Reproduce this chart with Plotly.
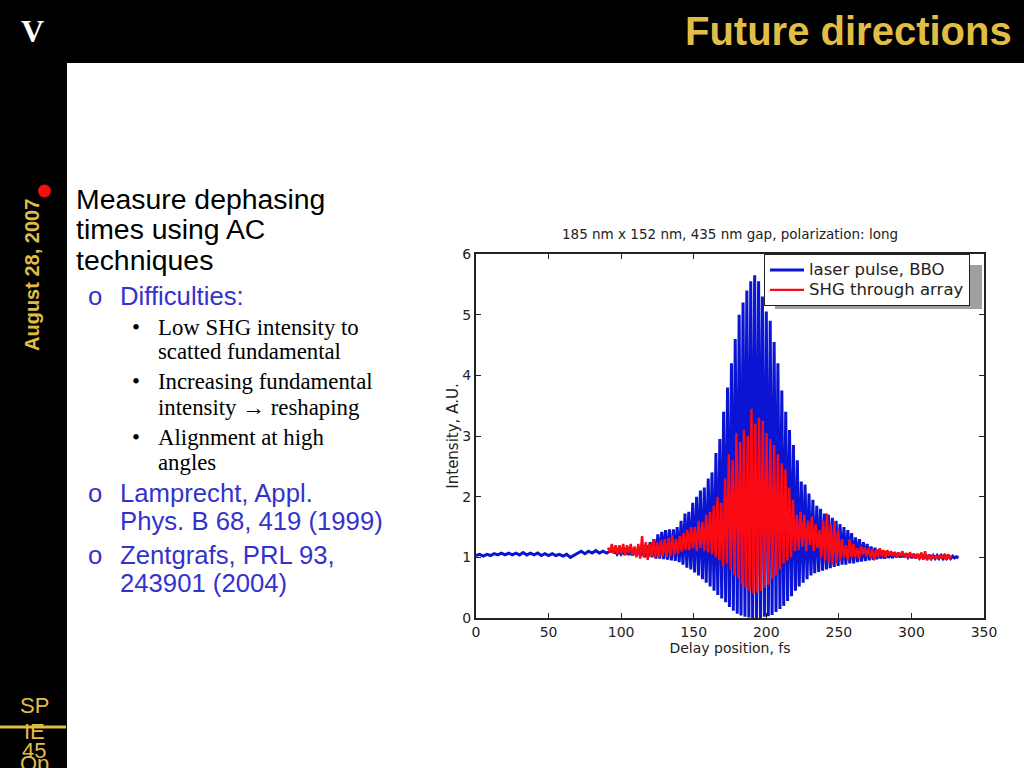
import plotly.graph_objects as go

# ---------- data ----------
blue_base_x = [0, 2.5, 5, 7.5, 10, 12.5, 15, 17.5, 20, 22.5, 25, 27.5, 30, 32.5, 35, 37.5, 40, 42.5, 45,
               47.5, 50, 52.5, 55, 57.5, 60, 62.5, 65, 67.5, 70, 72.5, 75, 77.5, 80, 82.5, 85, 87.5, 90, 92.5]
blue_base_y = [1.03, 1.05, 1.02, 1.05, 1.03, 1.06, 1.04, 1.07, 1.04, 1.07, 1.04, 1.07, 1.04, 1.08, 1.04, 1.07,
               1.04, 1.07, 1.03, 1.06, 1.03, 1.06, 1.03, 1.05, 1.02, 1.05, 1.0, 1.03, 1.07, 1.1, 1.06, 1.1,
               1.07, 1.11, 1.07, 1.1, 1.07, 1.1]

blue_fringe_x = [
    95.9, 97.2, 98.6, 99.9, 101.3, 102.6, 103.9, 105.3, 106.6, 107.9,
    109.3, 110.6, 112.0, 113.3, 114.6, 116.0, 117.3, 118.6, 120.0, 121.3,
    122.6, 124.0, 125.3, 126.6, 128.0, 129.3, 130.6, 132.0, 133.3, 134.6,
    136.0, 137.3, 138.6, 140.0, 141.3, 142.6, 144.0, 145.3, 146.6, 148.0,
    149.3, 150.6, 152.0, 153.3, 154.6, 156.0, 157.3, 158.6, 160.0, 161.3,
    162.6, 164.0, 165.3, 166.6, 168.0, 169.3, 170.6, 172.0, 173.3, 174.6,
    176.0, 177.3, 178.6, 180.0, 181.3, 182.6, 184.0, 185.3, 186.6, 188.0,
    189.3, 190.6, 192.0, 193.3, 194.7, 196.0, 197.3, 198.7, 200.0, 201.4,
    202.7, 204.0, 205.4, 206.7, 208.0, 209.4, 210.7, 212.0, 213.4, 214.7,
    216.0, 217.4, 218.7, 220.1, 221.4, 222.7, 224.1, 225.4, 226.7, 228.1,
    229.4, 230.8, 232.1, 233.4, 234.8, 236.1, 237.4, 238.8, 240.1, 241.5,
    242.8, 244.1, 245.5, 246.8, 248.1, 249.5, 250.8, 252.2, 253.5, 254.8,
    256.2, 257.5, 258.8, 260.2, 261.5, 262.9, 264.2, 265.5, 266.9, 268.2,
    269.5, 270.9, 272.2, 273.6, 274.9, 276.2, 277.6, 278.9, 280.2, 281.6,
    282.9, 284.2, 285.6, 286.9, 288.3, 289.6, 290.9, 292.3, 293.6, 294.9,
    296.3, 297.6, 299.0, 300.3, 301.6, 303.0, 304.3, 305.6, 307.0, 308.3,
    309.7, 311.0, 312.3, 313.7, 315.0, 316.3, 317.7, 319.0, 320.4, 321.7,
    323.0, 324.4, 325.7, 327.0, 328.4, 329.7, 331.1, 332.4]
blue_fringe_y = [
    1.1, 1.05, 1.1, 1.05, 1.1, 1.04, 1.12, 1.04, 1.12, 1.03,
    1.14, 1.03, 1.15, 1.02, 1.17, 1.0, 1.2, 1.0, 1.25, 1.0,
    1.3, 0.98, 1.38, 0.98, 1.42, 0.97, 1.45, 0.96, 1.46, 0.95,
    1.46, 0.94, 1.5, 0.92, 1.6, 0.88, 1.72, 0.83, 1.75, 0.8,
    1.9, 0.75, 2.0, 0.7, 2.1, 0.64, 2.15, 0.58, 2.3, 0.52,
    2.4, 0.45, 2.72, 0.38, 2.95, 0.32, 3.4, 0.26, 3.8, 0.18,
    4.2, 0.12, 4.6, 0.07, 5.0, 0.04, 5.2, 0.02, 5.4, 0.01,
    5.55, 0.0, 5.65, 0.0, 5.55, 0.0, 5.3, 0.02, 5.05, 0.03,
    4.9, 0.05, 4.55, 0.1, 4.2, 0.15, 3.75, 0.2, 3.4, 0.28,
    3.1, 0.36, 2.85, 0.45, 2.6, 0.52, 2.25, 0.58, 2.2, 0.64,
    2.05, 0.7, 1.95, 0.74, 1.85, 0.76, 1.8, 0.78, 1.72, 0.8,
    1.7, 0.82, 1.65, 0.84, 1.6, 0.86, 1.55, 0.88, 1.5, 0.88,
    1.45, 0.9, 1.4, 0.9, 1.33, 0.92, 1.3, 0.93, 1.25, 0.94,
    1.22, 0.95, 1.18, 0.96, 1.16, 0.97, 1.13, 0.98, 1.11, 0.98,
    1.1, 0.99, 1.09, 0.99, 1.08, 1.0, 1.07, 1.0, 1.06, 1.0,
    1.06, 1.0, 1.05, 0.99, 1.05, 0.99, 1.05, 0.99, 1.04, 0.98,
    1.04, 0.98, 1.04, 0.98, 1.03, 0.98, 1.03, 0.98, 1.03, 0.98,
    1.03, 0.98, 1.02, 0.98, 1.02, 0.99, 1.01, 0.99]

red_x = [
    91.0, 92.3, 93.6, 94.9, 96.2, 97.5, 98.8, 100.1, 101.4, 102.7,
    104.0, 105.3, 106.6, 107.9, 109.2, 110.5, 111.8, 113.1, 114.4, 115.7,
    117.0, 118.3, 119.6, 120.9, 122.2, 123.5, 124.8, 126.1, 127.4, 128.7,
    130.0, 131.3, 132.6, 133.9, 135.2, 136.5, 137.8, 139.1, 140.4, 141.7,
    143.0, 144.3, 145.6, 146.9, 148.2, 149.5, 150.8, 152.1, 153.4, 154.7,
    156.0, 157.3, 158.6, 159.9, 161.2, 162.5, 163.8, 165.1, 166.4, 167.7,
    169.0, 170.3, 171.6, 172.9, 174.2, 175.5, 176.8, 178.1, 179.4, 180.7,
    182.0, 183.3, 184.6, 185.9, 187.2, 188.5, 189.8, 191.1, 192.4, 193.7,
    195.0, 196.3, 197.6, 198.9, 200.2, 201.5, 202.8, 204.1, 205.4, 206.7,
    208.0, 209.3, 210.6, 211.9, 213.2, 214.5, 215.8, 217.1, 218.4, 219.7,
    221.0, 222.3, 223.6, 224.9, 226.2, 227.5, 228.8, 230.1, 231.4, 232.7,
    234.0, 235.3, 236.6, 237.9, 239.2, 240.5, 241.8, 243.1, 244.4, 245.7,
    247.0, 248.3, 249.6, 250.9, 252.2, 253.5, 254.8, 256.1, 257.4, 258.7,
    260.0, 261.3, 262.6, 263.9, 265.2, 266.5, 267.8, 269.1, 270.4, 271.7,
    273.0, 274.3, 275.6, 276.9, 278.2, 279.5, 280.8, 282.1, 283.4, 284.7,
    286.0, 287.3, 288.6, 289.9, 291.2, 292.5, 293.8, 295.1, 296.4, 297.7,
    299.0, 300.3, 301.6, 302.9, 304.2, 305.5, 306.8, 308.1, 309.4, 310.7,
    312.0, 313.3, 314.6, 315.9, 317.2, 318.5, 319.8, 321.1, 322.4, 323.7,
    325.0, 326.3, 327.6]
red_y = [
    1.16, 1.08, 1.22, 1.06, 1.2, 1.05, 1.2, 1.06, 1.22, 1.04,
    1.2, 1.07, 1.22, 1.03, 1.18, 1.0, 1.22, 0.98, 1.35, 1.0,
    1.25, 0.96, 1.22, 1.02, 1.3, 1.0, 1.24, 1.0, 1.28, 1.02,
    1.3, 1.0, 1.32, 1.02, 1.36, 1.04, 1.3, 1.06, 1.35, 1.1,
    1.4, 1.12, 1.45, 1.12, 1.5, 1.15, 1.5, 1.1, 1.6, 1.15,
    1.58, 1.1, 1.7, 1.08, 1.75, 1.05, 1.85, 1.0, 2.0, 0.95,
    1.9, 0.85, 2.3, 0.9, 2.7, 0.8, 2.6, 0.7, 3.05, 0.65,
    2.9, 0.55, 3.1, 0.5, 3.0, 0.45, 3.45, 0.4, 3.2, 0.42,
    3.3, 0.45, 3.25, 0.5, 3.05, 0.55, 2.95, 0.65, 2.85, 0.7,
    2.7, 0.8, 2.55, 0.9, 2.45, 0.95, 2.15, 1.0, 1.95, 1.1,
    1.7, 1.12, 1.75, 1.18, 1.7, 1.1, 1.6, 1.2, 1.67, 1.1,
    1.55, 1.15, 1.45, 1.0, 1.6, 0.95, 1.72, 0.9, 1.55, 0.88,
    1.6, 0.9, 1.45, 0.95, 1.3, 1.0, 1.2, 0.95, 1.3, 1.0,
    1.22, 1.0, 1.15, 0.98, 1.18, 1.05, 1.16, 1.02, 1.15, 1.0,
    1.14, 0.95, 1.12, 1.0, 1.15, 1.02, 1.12, 1.0, 1.12, 1.03,
    1.1, 1.02, 1.09, 1.0, 1.08, 1.02, 1.1, 1.0, 1.07, 0.99,
    1.08, 1.0, 1.06, 0.98, 1.05, 0.97, 1.08, 0.96, 1.1, 0.95,
    1.05, 0.96, 1.04, 0.98, 1.03, 0.97, 1.04, 0.98, 1.05, 0.96,
    1.05, 0.98, 1.03]

series_names = ["laser pulse, BBO", "SHG through array"]
x_ticks = [0, 50, 100, 150, 200, 250, 300, 350]
y_ticks = [0, 1, 2, 3, 4, 5, 6]
chart_title = "185 nm x 152 nm, 435 nm gap, polarization: long"
x_title = "Delay position, fs"
y_title = "Intensity, A.U."

slide_title = "Future directions"
slide_date = "August 28, 2007"
heading_lines = ["Measure dephasing", "times using AC", "techniques"]
level2_lines = ["Difficulties:", "Lamprecht, Appl.", "Phys. B 68, 419 (1999)", "Zentgrafs, PRL 93,", "243901 (2004)"]
level3_lines = ["Low SHG intensity to", "scatted fundamental", "Increasing fundamental",
                "intensity \u2192 reshaping", "Alignment at high", "angles"]
footer_lines = ["SP", "IE", "45", "Op"]

# ---------- page helpers ----------
W, H = 1024, 768
GOLD = "#e0bd45"
BLUE_TXT = "#3333cc"
ARIAL = "Liberation Sans"
SERIF = "Liberation Serif"
INK = "#222222"


def px(x):
    return x / W


def py(y):
    return 1 - y / H


def label(text, x, y, size, color, family=ARIAL, anchor="left", bold=False, angle=0):
    return dict(text=f"<b>{text}</b>" if bold else text, x=px(x), y=py(y), xref="paper", yref="paper",
                xanchor=anchor, yanchor="middle", showarrow=False, textangle=angle,
                font=dict(family=family, size=size, color=color))


def rect(x0, y0, x1, y1, color, layer="above"):
    return dict(type="rect", xref="paper", yref="paper", x0=px(x0), x1=px(x1), y0=py(y0), y1=py(y1),
                fillcolor=color, line=dict(width=0), layer=layer)


def big(name):
    return f'<span style="font-size:16.5px">{name}</span>'


fig = go.Figure()
fig.add_trace(go.Scatter(x=blue_base_x + blue_fringe_x, y=blue_base_y + blue_fringe_y, mode="lines",
                         name=big(series_names[0]), line=dict(color="#0a14d2", width=3)))
fig.add_trace(go.Scatter(x=red_x, y=red_y, mode="lines", name=big(series_names[1]),
                         line=dict(color="#fa0a14", width=2.4)))

anns = [
    label(slide_title, 1014, 31, 40, GOLD, anchor="right", bold=True),
    label(slide_date, 32, 275, 20, GOLD, anchor="center", bold=True, angle=-90),
    label("V", 32, 31, 32, "white", family=SERIF, anchor="center", bold=True),
    label(chart_title, 729.5, 234, 13.5, INK, family="DejaVu Sans", anchor="center"),
]
for t, y in zip(heading_lines, [199, 229, 260]):
    anns.append(label(t, 73.5, y, 28.4, "black"))
for t, y in zip(level2_lines, [296, 493, 521, 555, 583]):
    anns.append(label(t, 117.5, y, 25.7, BLUE_TXT))
for y in [296, 493, 555]:
    anns.append(label("o", 85.5, y, 25.7, BLUE_TXT))
for t, y in zip(level3_lines, [328, 352, 382, 407, 437, 462]):
    anns.append(label(t, 155.5, y, 22.8, "black", family=SERIF))
for y in [328, 382, 437]:
    anns.append(label("\u2022", 130, y, 22.8, "black", family=SERIF))
for t, y in zip(footer_lines, [705, 731, 750, 763]):
    anns.append(label(t, 34, y, 22, GOLD, anchor="center"))

shapes = [
    rect(0, 0, W, 63, "black"),
    rect(0, 0, 67, H, "black"),
    rect(0, 725.5, 66, 728.5, GOLD),
    rect(775, 265, 982, 309, "#a0a0a0", layer="below"),
    dict(type="circle", xref="paper", yref="paper", x0=px(38), x1=px(51), y0=py(197.5), y1=py(184.5),
         fillcolor="#f01010", line=dict(width=0)),
]

fig.update_layout(
    width=W, height=H, margin=dict(l=0, r=0, t=0, b=0, autoexpand=False), paper_bgcolor="white",
    plot_bgcolor="rgba(0,0,0,0)",
    annotations=anns, shapes=shapes,
    font=dict(family="DejaVu Sans", size=14, color=INK),
    legend=dict(x=px(764), y=py(254), xanchor="left", yanchor="top", bgcolor="white", bordercolor=INK,
                borderwidth=1, font=dict(size=13, family="DejaVu Sans", color=INK), itemwidth=34,
                entrywidth=171),
    xaxis=dict(domain=[px(476), px(984)], range=[0, 350], tickvals=x_ticks, ticks="inside", ticklen=5,
               tickcolor=INK, mirror="ticks", showline=True, linecolor=INK, linewidth=2,
               showgrid=False, zeroline=False, title=dict(text=x_title, standoff=1, font=dict(size=14))),
    yaxis=dict(domain=[py(618), py(254)], range=[0, 6], tickvals=y_ticks, ticks="inside", ticklen=5,
               tickcolor=INK, mirror="ticks", showline=True, linecolor=INK, linewidth=2,
               showgrid=False, zeroline=False, title=dict(text=y_title, standoff=0, font=dict(size=15))),
)
fig.write_html("out.html", config={"displayModeBar": False},
               post_script="document.documentElement.style.margin='0';document.documentElement.style.padding='0';"
                           "document.documentElement.style.overflow='hidden';"
                           "document.body.style.margin='0';document.body.style.padding='0';"
                           "document.body.style.overflow='hidden';"
                           "var g=document.getElementById('{plot_id}');g.style.position='fixed';"
                           "g.style.left='0px';g.style.top='0px';")
